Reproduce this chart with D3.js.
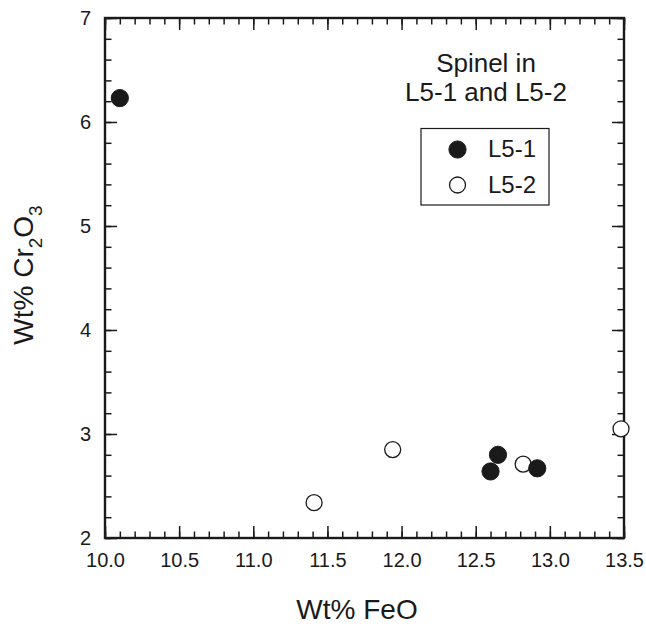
<!DOCTYPE html>
<html>
<head>
<meta charset="utf-8">
<script src="https://cdn.jsdelivr.net/npm/d3@7"></script>
<style>
  html, body { margin: 0; padding: 0; background: #fff; }
  svg { display: block; font-family: "Liberation Sans", Arial, Helvetica, sans-serif; }
</style>
</head>
<body>
<svg id="chart" width="646" height="626" viewBox="0 0 646 626"></svg>
<script>
// ---- data ----
const seriesNames = ["L5-1", "L5-2"];
const l51FeO = [10.10, 12.60, 12.65, 12.915];
const l51Cr2O3 = [6.23, 2.64, 2.80, 2.67];
const l52FeO = [11.41, 11.94, 12.82, 13.48];
const l52Cr2O3 = [2.34, 2.85, 2.71, 3.05];
const xTicks = [10.0, 10.5, 11.0, 11.5, 12.0, 12.5, 13.0, 13.5];
const yTicks = [2, 3, 4, 5, 6, 7];
const titleLines = ["Spinel in", "L5-1 and L5-2"];

const ink = "#1a1a1a";
const svg = d3.select("#chart");
const L = 105, R = 624, T = 18, B = 538;

const x = d3.scaleLinear().domain([10, 13.5]).range([L, R]);
const y = d3.scaleLinear().domain([2, 7]).range([B, T]);

const xMinor = d3.range(100, 136).map(v => v / 10);
const yMinor = d3.range(10, 36).map(v => v / 5);

function styleAxis(g) {
  g.select(".domain").remove();
  g.selectAll(".tick line").attr("stroke", ink).attr("stroke-width", 1.5);
  g.selectAll("text").attr("fill", ink).attr("font-size", 20)
    .attr("font-family", "'Liberation Sans', Arial, sans-serif");
}

// minor ticks, inward on all four sides
svg.append("g").attr("transform", `translate(0,${B})`)
  .call(d3.axisBottom(x).tickValues(xMinor).tickSize(-6.5).tickFormat("")).call(styleAxis);
svg.append("g").attr("transform", `translate(0,${T})`)
  .call(d3.axisTop(x).tickValues(xMinor).tickSize(-6.5).tickFormat("")).call(styleAxis);
svg.append("g").attr("transform", `translate(${L},0)`)
  .call(d3.axisLeft(y).tickValues(yMinor).tickSize(-6.5).tickFormat("")).call(styleAxis);
svg.append("g").attr("transform", `translate(${R},0)`)
  .call(d3.axisRight(y).tickValues(yMinor).tickSize(-6.5).tickFormat("")).call(styleAxis);

// major ticks with labels
svg.append("g").attr("transform", `translate(0,${B})`)
  .call(d3.axisBottom(x).tickValues(xTicks).tickSize(-12).tickPadding(15).tickFormat(d3.format(".1f"))).call(styleAxis);
svg.append("g").attr("transform", `translate(0,${T})`)
  .call(d3.axisTop(x).tickValues(xTicks).tickSize(-12).tickFormat("")).call(styleAxis);
svg.append("g").attr("transform", `translate(${L},0)`)
  .call(d3.axisLeft(y).tickValues(yTicks).tickSize(-12).tickPadding(14).tickFormat(d3.format("d"))).call(styleAxis);
svg.append("g").attr("transform", `translate(${R},0)`)
  .call(d3.axisRight(y).tickValues(yTicks).tickSize(-12).tickFormat("")).call(styleAxis);

// frame
svg.append("rect").attr("x", L).attr("y", T).attr("width", R - L).attr("height", B - T)
  .attr("fill", "none").attr("stroke", ink).attr("stroke-width", 2.4);

// points: open first, filled on top
const open = l52FeO.map((v, i) => ({ fe: v, cr: l52Cr2O3[i] }));
const filled = l51FeO.map((v, i) => ({ fe: v, cr: l51Cr2O3[i] }));

svg.append("g").selectAll("circle").data(open).join("circle")
  .attr("cx", d => x(d.fe)).attr("cy", d => y(d.cr)).attr("r", 8)
  .attr("fill", "#fff").attr("stroke", ink).attr("stroke-width", 1.3);
svg.append("g").selectAll("circle").data(filled).join("circle")
  .attr("cx", d => x(d.fe)).attr("cy", d => y(d.cr)).attr("r", 8.6)
  .attr("fill", ink).attr("stroke", ink).attr("stroke-width", 1);

// title
svg.append("g").selectAll("text").data(titleLines).join("text")
  .attr("x", 486).attr("y", (d, i) => 71.7 + i * 28.8)
  .attr("text-anchor", "middle").attr("font-size", 26).attr("fill", ink).text(d => d);

// legend
const lg = svg.append("g");
lg.append("rect").attr("x", 421).attr("y", 128.5).attr("width", 128).attr("height", 76.5)
  .attr("fill", "#fff").attr("stroke", ink).attr("stroke-width", 1.2);
seriesNames.forEach((name, i) => {
  const cy = 149.5 + i * 35.5;
  lg.append("circle").attr("cx", 457.5).attr("cy", cy).attr("r", i === 0 ? 8.6 : 8)
    .attr("fill", i === 0 ? ink : "#fff").attr("stroke", ink).attr("stroke-width", i === 0 ? 1 : 1.3);
  lg.append("text").attr("x", 488).attr("y", cy + 7.5).attr("font-size", 24)
    .attr("fill", ink).text(name);
});

// axis titles
svg.append("text").attr("x", 357).attr("y", 619).attr("text-anchor", "middle")
  .attr("font-size", 28).attr("fill", ink).text("Wt% FeO");

const yt = svg.append("text").attr("transform", "rotate(-90)")
  .attr("x", -275).attr("y", 33).attr("text-anchor", "middle")
  .attr("font-size", 28).attr("fill", ink);
yt.append("tspan").text("Wt% Cr");
yt.append("tspan").attr("font-size", 19).attr("dy", 9).text("2");
yt.append("tspan").attr("dy", -9).text("O");
yt.append("tspan").attr("font-size", 19).attr("dy", 9).text("3");
</script>
</body>
</html>
